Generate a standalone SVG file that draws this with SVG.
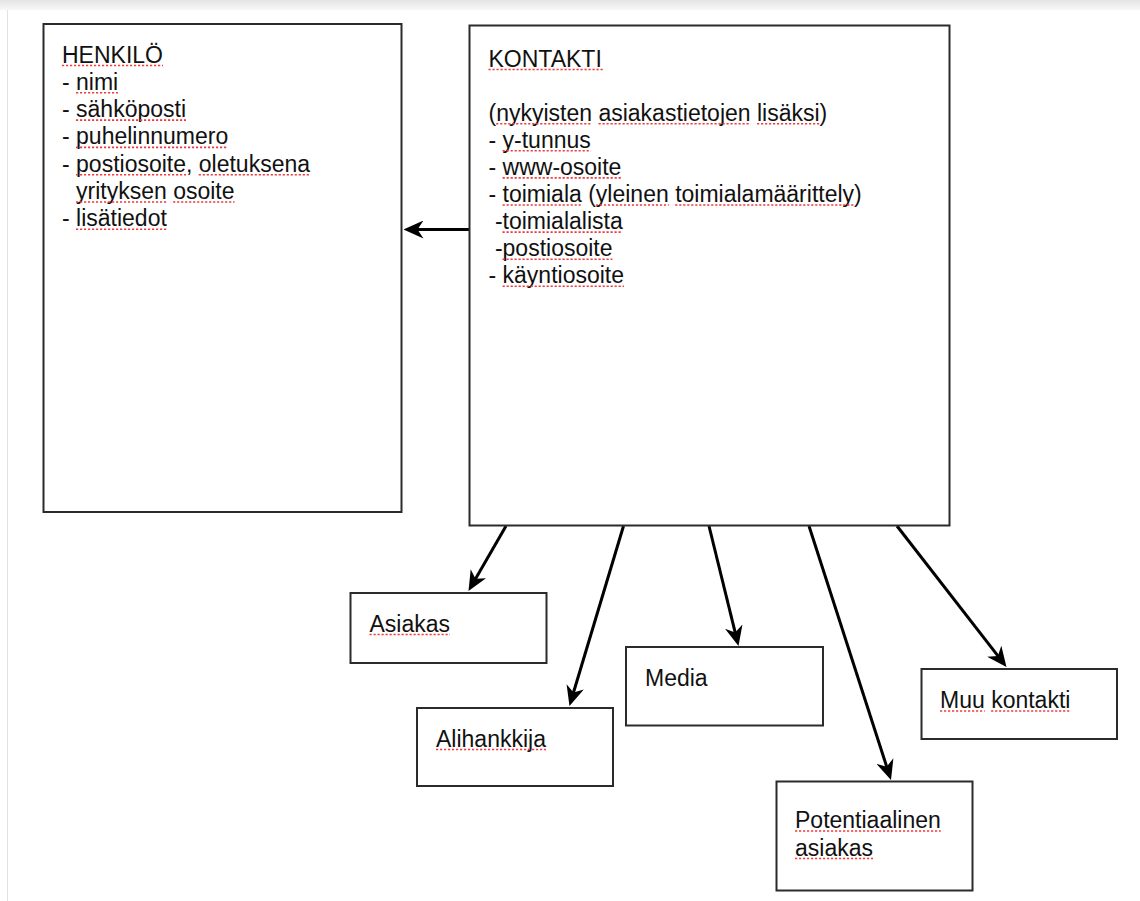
<svg xmlns="http://www.w3.org/2000/svg" width="1140" height="901" viewBox="0 0 1140 901">
<style>
  .box { fill: #ffffff; stroke: #2b2b2b; stroke-width: 2; }
  .t { font-family: "Liberation Sans", Arial, Helvetica, sans-serif; font-size: 23px; fill: #111111; }
  .sp { stroke: #f03c3c; stroke-width: 1.6; stroke-dasharray: 2.2 1.8; fill: none; }
  .conn { stroke: #000000; stroke-width: 3; fill: none; marker-end: url(#arr); }
</style>
<defs>
  <linearGradient id="topband" x1="0" y1="0" x2="0" y2="1">
    <stop offset="0" stop-color="#e4e4e4"/>
    <stop offset="1" stop-color="#f8f8f8"/>
  </linearGradient>
  <marker id="arr" markerUnits="userSpaceOnUse" viewBox="0 0 20 18" refX="7" refY="9" markerWidth="20" markerHeight="18" orient="auto">
    <path d="M0,0 L20,9 L0,18 L6,9 Z" fill="#000000"/>
  </marker>
</defs>
<rect x="0" y="0" width="1140" height="901" fill="#ffffff"/>
<rect x="0" y="0" width="1140" height="10" fill="url(#topband)"/>
<line x1="7.5" y1="10" x2="7.5" y2="901" stroke="#e2e2e2" stroke-width="1"/>

<g id="connectors">
  <line class="conn" x1="469" y1="229.5" x2="416.5" y2="229.5"/>
  <line class="conn" x1="506" y1="526" x2="475" y2="579.7"/>
  <line class="conn" x1="623.5" y1="526" x2="573.2" y2="693.5"/>
  <line class="conn" x1="709" y1="526" x2="735.4" y2="633.4"/>
  <line class="conn" x1="809" y1="526" x2="887" y2="767.6"/>
  <line class="conn" x1="897" y1="526" x2="998.5" y2="656.7"/>
</g>

<g id="henkilo">
  <rect class="box" x="43.5" y="24" width="358" height="488"/>
  <text class="t" x="62" y="62.5">HENKILÖ</text>
  <text class="t" x="62" y="89.8">- nimi</text>
  <text class="t" x="62" y="117.1">- sähköposti</text>
  <text class="t" x="62" y="144.4">- puhelinnumero</text>
  <text class="t" x="62" y="171.7">- postiosoite, oletuksena</text>
  <text class="t" x="76" y="199">yrityksen osoite</text>
  <text class="t" x="62" y="226.3">- lisätiedot</text>
  <path class="sp" d="M62,65.5H163 M76,92.8H118 M76,120.1H186 M76,147.4H228 M76,174.7H186 M198.7,174.7H310 M76,202H166.7 M173.1,202H234.5 M76,229.3H166.8"/>
</g>

<g id="kontakti">
  <rect class="box" x="469.5" y="25.5" width="480" height="500"/>
  <text class="t" x="488.5" y="66.5">KONTAKTI</text>
  <text class="t" x="488.5" y="120.7">(nykyisten asiakastietojen lisäksi)</text>
  <text class="t" x="488.5" y="147.8">- y-tunnus</text>
  <text class="t" x="488.5" y="174.9">- www-osoite</text>
  <text class="t" x="488.5" y="202">- toimiala (yleinen toimialamäärittely)</text>
  <text class="t" x="494.9" y="229.1">-toimialalista</text>
  <text class="t" x="494.9" y="256.2">-postiosoite</text>
  <text class="t" x="488.5" y="283.3">- käyntiosoite</text>
  <path class="sp" d="M488.5,69.5H603.5 M496.2,123.7H592.1 M598.5,123.7H750.6 M757,123.7H819.6 M502.6,150.8H590.8 M502.6,177.9H621.4 M502.6,205H581.8 M595.9,205H668.8 M675.2,205H854.1 M502.5,232.1H622.6 M502.5,259.2H612.4 M502.6,286.3H624"/>
</g>

<g id="asiakas">
  <rect class="box" x="350.5" y="593" width="196" height="70"/>
  <text class="t" x="369.5" y="631.5">Asiakas</text>
  <path class="sp" d="M369.5,634.5H450"/>
</g>

<g id="alihankkija">
  <rect class="box" x="417" y="708" width="196" height="78"/>
  <text class="t" x="436" y="746.5">Alihankkija</text>
  <path class="sp" d="M436,749.5H546"/>
</g>

<g id="media">
  <rect class="box" x="626" y="647" width="197" height="78.5"/>
  <text class="t" x="645" y="686">Media</text>
</g>

<g id="muu-kontakti">
  <rect class="box" x="921.5" y="669" width="195.5" height="70"/>
  <text class="t" x="940" y="708">Muu kontakti</text>
  <path class="sp" d="M940,711H984.7 M991.1,711H1070.4"/>
</g>

<g id="potentiaalinen-asiakas">
  <rect class="box" x="776.5" y="781.5" width="196" height="109"/>
  <text class="t" x="795" y="828">Potentiaalinen</text>
  <text class="t" x="795" y="855.5">asiakas</text>
  <path class="sp" d="M795,831H940.8 M795,858.5H873"/>
</g>
</svg>
